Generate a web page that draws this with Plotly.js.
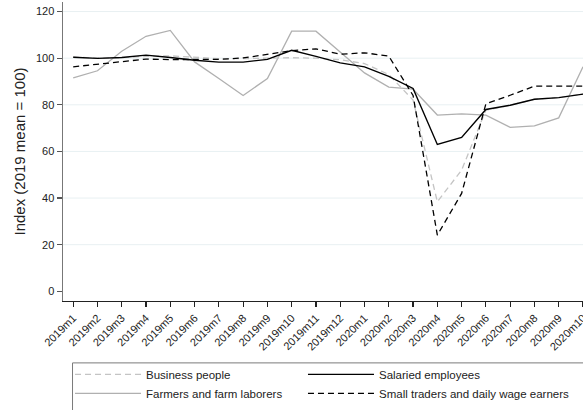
<!DOCTYPE html>
<html><head><meta charset="utf-8">
<script src="https://cdn.plot.ly/plotly-3.0.1.min.js"></script>
<style>html,body{margin:0;padding:0;background:#fff}#chart{width:583px;height:410px}</style>
</head><body><div id="chart"></div>
<script>
const months = ['2019m1','2019m2','2019m3','2019m4','2019m5','2019m6','2019m7','2019m8','2019m9','2019m10','2019m11','2019m12',
  '2020m1','2020m2','2020m3','2020m4','2020m5','2020m6','2020m7','2020m8','2020m9','2020m10'];
const businessPeople    = [100.5,100.0,100.2,100.8,101.0,100.3,99.8,99.8,100.0,100.2,100.0,99.3,97.7,93.0,82.0,38.4,52.0,77.7,79.8,82.4,83.1,84.6];
const salariedEmployees = [100.4,99.9,100.3,101.3,100.3,99.1,98.3,98.3,99.5,103.4,100.8,98.0,96.3,92.2,87.0,63.0,66.0,78.0,79.8,82.4,83.1,84.6];
const farmers           = [91.6,94.6,103.0,109.4,111.9,98.4,91.3,84.0,91.3,111.6,111.6,102.5,93.7,87.6,86.7,75.6,76.1,75.6,70.3,71.0,74.4,96.3];
const smallTraders      = [96.3,97.4,98.7,99.6,99.4,99.5,99.5,100.1,101.6,103.2,104.0,101.7,102.3,100.9,84.0,24.1,42.0,80.4,84.1,88.0,88.0,88.0];
const yTickVals = [0,20,40,60,80,100,120];
const gridVals = [20,40,60,80,100,120];

const traces = [
  {name:'Farmers and farm laborers', y:farmers, line:{color:'#b0b0b0', width:1.3, dash:'solid'}, legend:'legend', legendrank:2},
  {name:'Business people', y:businessPeople, line:{color:'#c4c4c4', width:1.3, dash:'6px,4px'}, legend:'legend', legendrank:1},
  {name:'Salaried employees', y:salariedEmployees, line:{color:'#000000', width:1.4, dash:'solid'}, legend:'legend2', legendrank:1},
  {name:'Small traders and daily wage earners', y:smallTraders, line:{color:'#000000', width:1.3, dash:'6px,4px'}, legend:'legend2', legendrank:2}
].map(t => Object.assign({type:'scatter', mode:'lines', x:months, hoverinfo:'skip'}, t));

const shapes = gridVals.map(v => ({type:'line', xref:'paper', yref:'y', x0:0, x1:1, y0:v, y1:v,
  line:{color:'#e8f0f2', width:1}, layer:'below'}));
shapes.push({type:'rect', xref:'paper', yref:'paper', x0:0.0183, x1:1.05, y0:-0.207, y1:-0.45,
  line:{color:'#7a7a7a', width:1}, fillcolor:'rgba(0,0,0,0)'});

const legendBase = {orientation:'v', xanchor:'left', y:-0.197, yanchor:'top', traceorder:'normal',
  font:{size:11.5, color:'#222'}, itemwidth:66, bgcolor:'rgba(0,0,0,0)', borderwidth:0};

const layout = {
  width:583, height:410,
  margin:{l:63, r:0, t:2, b:109, autoexpand:false},
  paper_bgcolor:'#ffffff', plot_bgcolor:'#ffffff',
  font:{family:'"Liberation Sans", Arial, sans-serif', size:11, color:'#222'},
  showlegend:true,
  xaxis:{type:'category', range:[-0.42, 21], showgrid:false, zeroline:false, automargin:false,
    showline:true, linecolor:'#222', linewidth:1.3,
    ticks:'outside', ticklen:5, tickcolor:'#222', tickwidth:1.2,
    tickangle:-45, tickfont:{size:11, color:'#222'}},
  yaxis:{range:[-4.16, 124.1], tickvals:yTickVals, showgrid:false, zeroline:false, automargin:false,
    showline:true, linecolor:'#777', linewidth:1.5,
    ticks:'outside', ticklen:5, tickcolor:'#555', tickwidth:1.2,
    tickfont:{size:11, color:'#222'},
    title:{text:'Index (2019 mean = 100)', font:{size:15, color:'#222'}, standoff:6}},
  legend:Object.assign({}, legendBase, {x:0.0135}),
  legend2:Object.assign({}, legendBase, {x:0.4615}),
  shapes:shapes
};
Plotly.newPlot('chart', traces, layout, {staticPlot:true, displayModeBar:false});
</script>
</body></html>
